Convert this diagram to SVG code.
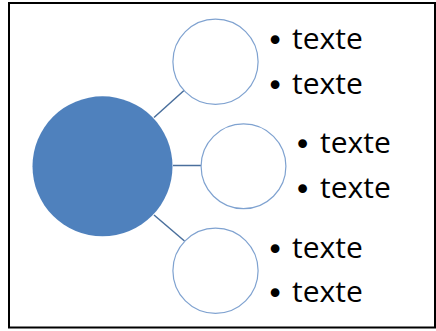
<svg xmlns="http://www.w3.org/2000/svg" width="436" height="331" viewBox="0 0 436 331">
  <style>
    .frame { fill: #ffffff; stroke: #000000; stroke-width: 2; }
    .hub { fill: #4F81BD; }
    .leaf { fill: #ffffff; stroke: #7FA2D0; stroke-width: 1.2; }
    .link { stroke: #4A6F9C; stroke-width: 1.5; fill: none; }
    .item { font-family: "Open Sans", "Noto Sans", sans-serif; font-size: 30px; fill: #000000; }
    .bullet { font-family: "DejaVu Sans", sans-serif; font-size: 30px; text-anchor: middle; }
  </style>
  <rect class="frame" x="9" y="3" width="426" height="324.5"/>

  <g id="connectors">
    <line class="link" x1="154" y1="117.5" x2="184" y2="90.5"/>
    <line class="link" x1="173" y1="165.5" x2="201" y2="165.5"/>
    <line class="link" x1="154" y1="215" x2="184.5" y2="241"/>
  </g>

  <g id="hub">
    <circle class="hub" cx="102.5" cy="166.3" r="70"/>
  </g>

  <g id="node-top">
    <circle class="leaf" cx="215.5" cy="61.7" r="42.6"/>
    <text class="item" y="49"><tspan class="bullet" x="275" dy="2">•</tspan><tspan x="292" dy="-2">texte</tspan></text>
    <text class="item" y="93.7"><tspan class="bullet" x="275" dy="2">•</tspan><tspan x="292" dy="-2">texte</tspan></text>
  </g>

  <g id="node-middle">
    <circle class="leaf" cx="243.5" cy="166.3" r="42.4"/>
    <text class="item" y="153.3"><tspan class="bullet" x="302.5" dy="2">•</tspan><tspan x="320" dy="-2">texte</tspan></text>
    <text class="item" y="197.7"><tspan class="bullet" x="302.5" dy="2">•</tspan><tspan x="320" dy="-2">texte</tspan></text>
  </g>

  <g id="node-bottom">
    <circle class="leaf" cx="215.5" cy="270.8" r="42.6"/>
    <text class="item" y="257.7"><tspan class="bullet" x="275" dy="2">•</tspan><tspan x="292" dy="-2">texte</tspan></text>
    <text class="item" y="301.7"><tspan class="bullet" x="275" dy="2">•</tspan><tspan x="292" dy="-2">texte</tspan></text>
  </g>
</svg>
